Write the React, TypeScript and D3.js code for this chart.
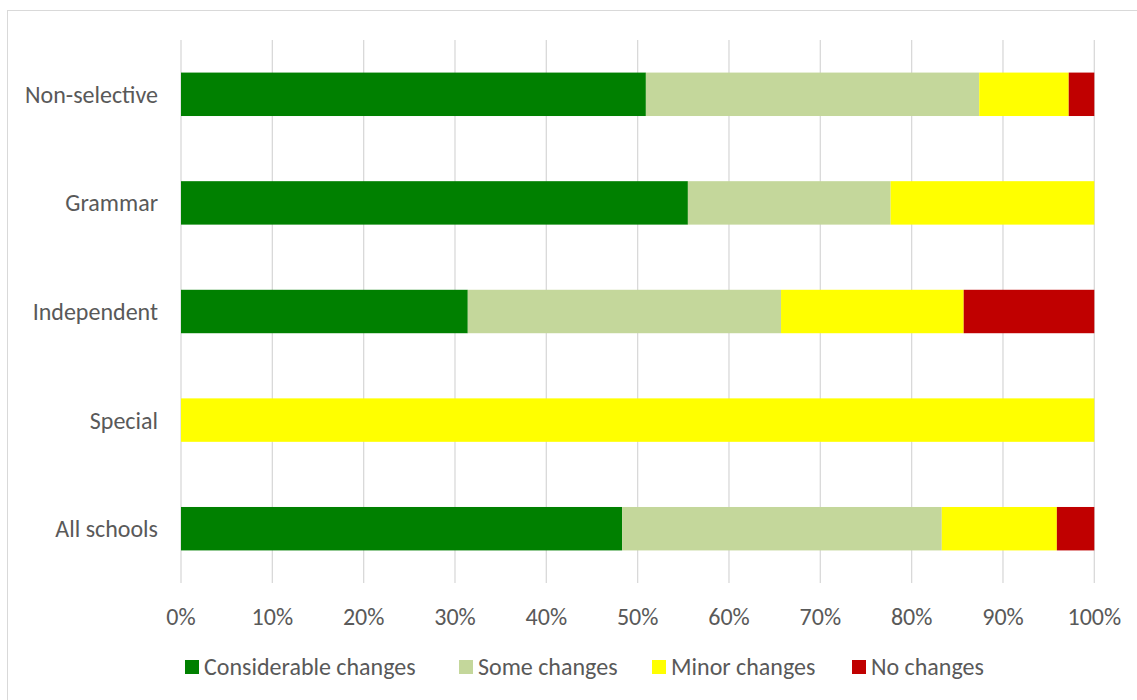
import React, { useEffect, useRef } from "react";
import * as d3 from "d3";

const categories = ["Non-selective", "Grammar", "Independent", "Special", "All schools"];
const seriesNames = ["Considerable changes", "Some changes", "Minor changes", "No changes"];
const seriesColors = ["#008000", "#c4d79b", "#ffff00", "#c00000"];

// percent per category, in category order
const considerable = [50.9, 55.5, 31.4, 0, 48.3];
const some = [36.5, 22.2, 34.3, 0, 35.0];
const minor = [9.8, 22.3, 20.0, 100, 12.6];
const none = [2.8, 0, 14.3, 0, 4.1];

const xTicks = [0, 10, 20, 30, 40, 50, 60, 70, 80, 90, 100];

const FONT = "Calibri, Carlito, 'Open Sans', sans-serif";

export default function App() {
  const ref = useRef<SVGSVGElement>(null);

  useEffect(() => {
    const svg = d3.select(ref.current);
    svg.selectAll("*").remove(); // clear previous chart

    const width = 1137,
      height = 700;
    svg.attr("width", width).attr("height", height);

    svg
      .append("rect")
      .attr("x", 7.5)
      .attr("y", 10.5)
      .attr("width", 1140)
      .attr("height", 700)
      .attr("fill", "#fff")
      .attr("stroke", "#d9d9d9");

    const x = d3.scaleLinear().domain([0, 100]).range([181, 1094.3]);
    const y = d3.scaleBand().domain(categories).range([40, 583]).paddingInner(0.6).paddingOuter(0.3);

    // gridlines
    svg
      .append("g")
      .selectAll("line")
      .data(xTicks)
      .enter()
      .append("line")
      .attr("x1", (d) => x(d))
      .attr("x2", (d) => x(d))
      .attr("y1", 40)
      .attr("y2", 583)
      .attr("stroke", "#d9d9d9")
      .attr("stroke-width", 1.3);

    const rows = categories.map((c, i) => ({
      cat: c,
      s0: considerable[i],
      s1: some[i],
      s2: minor[i],
      s3: none[i],
    }));
    const stack = d3.stack<any>().keys(["s0", "s1", "s2", "s3"]);
    const layers = stack(rows);

    svg
      .append("g")
      .selectAll("g")
      .data(layers)
      .enter()
      .append("g")
      .attr("fill", (d, i) => seriesColors[i])
      .selectAll("rect")
      .data((d) => d)
      .enter()
      .append("rect")
      .attr("x", (d) => x(d[0]))
      .attr("width", (d) => Math.max(0, x(d[1]) - x(d[0])))
      .attr("y", (d) => y(d.data.cat)!)
      .attr("height", y.bandwidth());

    // category labels
    svg
      .append("g")
      .selectAll("text")
      .data(categories)
      .enter()
      .append("text")
      .attr("x", 158)
      .attr("y", (d) => y(d)! + y.bandwidth() / 2)
      .attr("dy", "0.35em")
      .attr("text-anchor", "end")
      .attr("font-family", FONT)
      .attr("font-size", 24)
      .attr("fill", "#595959")
      .text((d) => d);

    // x tick labels
    svg
      .append("g")
      .selectAll("text")
      .data(xTicks)
      .enter()
      .append("text")
      .attr("x", (d) => x(d))
      .attr("y", 617)
      .attr("dy", "0.35em")
      .attr("text-anchor", "middle")
      .attr("font-family", FONT)
      .attr("font-size", 24)
      .attr("fill", "#595959")
      .text((d) => d + "%");

    // legend
    const legendX = [185, 459, 652, 852];
    const lg = svg
      .append("g")
      .selectAll("g")
      .data(seriesNames)
      .enter()
      .append("g")
      .attr("transform", (d, i) => `translate(${legendX[i]},667)`);
    lg.append("rect")
      .attr("x", 0)
      .attr("y", -7)
      .attr("width", 14)
      .attr("height", 14)
      .attr("fill", (d, i) => seriesColors[i]);
    lg.append("text")
      .attr("x", 19)
      .attr("y", 0)
      .attr("dy", "0.35em")
      .attr("font-family", FONT)
      .attr("font-size", 24)
      .attr("fill", "#595959")
      .text((d) => d);
  }, []);

  return <svg ref={ref} style={{ position: "absolute", left: 0, top: 0 }}></svg>;
}
